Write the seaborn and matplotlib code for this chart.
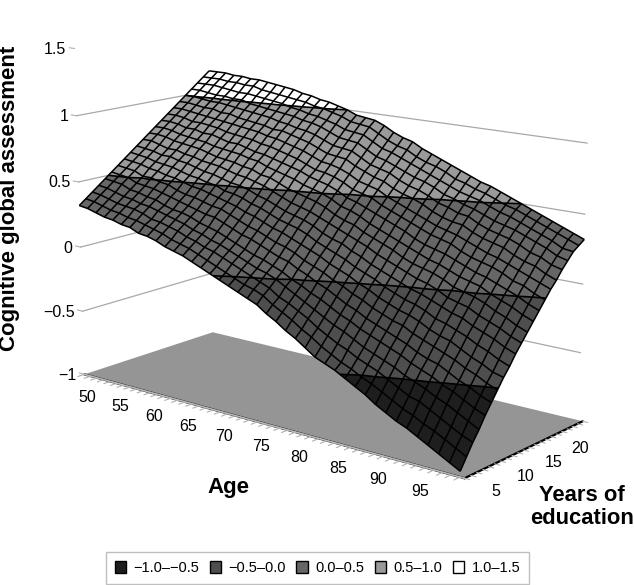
import numpy as np
import matplotlib
matplotlib.use('Agg')
import matplotlib.pyplot as plt
import seaborn as sns
from matplotlib.patches import Patch
from mpl_toolkits.mplot3d.art3d import Poly3DCollection

AGE = [50, 51.25, 52.5, 53.75, 55, 56.25, 57.5, 58.75, 60, 61.25, 62.5, 63.75, 65, 66.25, 67.5, 68.75, 70, 71.25,
       72.5, 73.75, 75, 76.25, 77.5, 78.75, 80, 81.25, 82.5, 83.75, 85, 86.25, 87.5, 88.75, 90, 91.25, 92.5, 93.75,
       95, 96.25, 97.5, 98.75, 100]
EDU = list(range(5, 27))
# one row per age, one value per year of education (5 to 26)
SCORE = [
    [.32, .36, .40, .44, .48, .52, .56, .60, .64, .68, .72, .76, .80, .84, .88, .92, .96, 1.00, 1.04, 1.08, 1.12, 1.16],
    [.31, .35, .39, .43, .47, .51, .55, .59, .63, .67, .72, .76, .80, .84, .88, .92, .96, 1.00, 1.04, 1.08, 1.12, 1.16],
    [.29, .33, .37, .41, .46, .50, .54, .58, .62, .66, .70, .75, .79, .83, .87, .91, .95, .99, 1.03, 1.08, 1.12, 1.16],
    [.27, .31, .35, .39, .43, .47, .51, .56, .60, .64, .68, .73, .77, .81, .85, .90, .94, .98, 1.02, 1.07, 1.11, 1.15],
    [.26, .30, .34, .38, .42, .46, .51, .55, .59, .64, .68, .72, .76, .81, .85, .89, .94, .98, 1.02, 1.06, 1.11, 1.15],
    [.24, .28, .33, .36, .40, .45, .49, .53, .58, .62, .66, .71, .75, .79, .84, .88, .92, .97, 1.01, 1.05, 1.10, 1.14],
    [.23, .27, .31, .35, .39, .43, .48, .52, .56, .61, .65, .70, .74, .79, .83, .87, .92, .96, 1.01, 1.05, 1.10, 1.14],
    [.20, .25, .28, .33, .36, .41, .45, .50, .54, .59, .63, .68, .72, .77, .81, .86, .90, .95, .99, 1.04, 1.08, 1.13],
    [.19, .23, .27, .31, .34, .39, .43, .48, .53, .57, .62, .66, .71, .75, .80, .85, .89, .94, .98, 1.03, 1.07, 1.12],
    [.17, .21, .25, .29, .33, .37, .42, .47, .51, .56, .61, .65, .70, .75, .79, .84, .88, .93, .97, 1.02, 1.06, 1.11],
    [.14, .18, .23, .27, .31, .35, .40, .45, .50, .54, .59, .64, .69, .73, .78, .83, .87, .92, .96, 1.01, 1.05, 1.10],
    [.12, .16, .20, .24, .28, .33, .38, .43, .47, .52, .57, .62, .67, .71, .76, .81, .85, .90, .95, .99, 1.04, 1.08],
    [.10, .14, .18, .22, .26, .32, .37, .41, .46, .51, .56, .61, .66, .70, .75, .80, .85, .89, .94, .98, 1.03, 1.07],
    [.07, .11, .15, .19, .24, .29, .34, .39, .44, .49, .54, .58, .63, .68, .73, .78, .83, .87, .92, .96, 1.01, 1.05],
    [.04, .08, .13, .17, .21, .26, .31, .36, .41, .46, .52, .57, .61, .66, .71, .76, .81, .86, .91, .95, 1.00, 1.04],
    [.01, .05, .10, .14, .18, .23, .28, .34, .39, .44, .49, .54, .59, .64, .69, .74, .79, .84, .89, .93, .98, 1.02],
    [-.02, .02, .07, .11, .15, .21, .26, .31, .36, .41, .46, .51, .57, .62, .66, .71, .76, .81, .86, .91, .96, 1.00],
    [-.05, -.01, .04, .08, .12, .18, .23, .28, .33, .38, .43, .49, .54, .59, .63, .68, .73, .78, .83, .88, .93, .97],
    [-.08, -.04, .01, .05, .10, .15, .20, .26, .31, .36, .41, .47, .52, .57, .62, .67, .72, .77, .82, .87, .92, .96],
    [-.11, -.06, -.02, .03, .07, .12, .18, .23, .29, .34, .39, .45, .50, .55, .60, .65, .71, .76, .81, .86, .91, .95],
    [-.14, -.09, -.05, .00, .04, .10, .15, .20, .26, .31, .36, .42, .47, .52, .57, .62, .67, .72, .77, .82, .87, .92],
    [-.19, -.14, -.10, -.04, .00, .06, .11, .17, .22, .27, .33, .38, .43, .48, .53, .58, .64, .68, .73, .78, .83, .88],
    [-.23, -.18, -.13, -.08, -.03, .03, .08, .14, .19, .24, .30, .35, .41, .46, .51, .56, .61, .66, .71, .76, .80, .85],
    [-.28, -.22, -.17, -.12, -.07, -.01, .05, .10, .16, .22, .27, .33, .38, .43, .49, .54, .59, .64, .68, .73, .78, .83],
    [-.32, -.27, -.21, -.16, -.10, -.04, .01, .07, .13, .18, .24, .29, .34, .40, .45, .50, .55, .60, .65, .70, .74, .79],
    [-.37, -.31, -.26, -.20, -.14, -.08, -.02, .04, .09, .15, .21, .26, .31, .37, .42, .47, .52, .57, .62, .67, .71, .76],
    [-.42, -.36, -.30, -.24, -.18, -.12, -.06, .00, .06, .11, .17, .23, .28, .34, .39, .44, .50, .55, .60, .64, .69, .73],
    [-.45, -.40, -.34, -.27, -.21, -.15, -.09, -.03, .03, .08, .14, .20, .25, .31, .36, .41, .47, .52, .57, .61, .66, .70],
    [-.48, -.44, -.37, -.31, -.25, -.19, -.13, -.07, -.01, .05, .11, .16, .22, .27, .33, .38, .43, .48, .53, .58, .62, .67],
    [-.52, -.47, -.41, -.35, -.28, -.22, -.16, -.10, -.04, .02, .08, .13, .19, .24, .30, .35, .40, .46, .51, .55, .60, .64],
    [-.56, -.51, -.44, -.38, -.31, -.25, -.19, -.13, -.07, -.01, .05, .11, .16, .22, .28, .33, .38, .43, .48, .53, .57, .61],
    [-.60, -.54, -.47, -.41, -.34, -.28, -.21, -.15, -.09, -.03, .03, .09, .14, .20, .26, .31, .37, .42, .46, .51, .55, .59],
    [-.65, -.58, -.51, -.44, -.37, -.31, -.25, -.18, -.12, -.06, .00, .06, .11, .17, .22, .28, .33, .38, .43, .48, .52, .56],
    [-.69, -.62, -.55, -.48, -.41, -.35, -.28, -.22, -.16, -.09, -.04, .02, .08, .14, .19, .25, .30, .35, .40, .45, .49, .53],
    [-.73, -.66, -.59, -.51, -.44, -.38, -.31, -.25, -.18, -.12, -.06, .00, .06, .11, .17, .22, .28, .33, .38, .43, .47, .50],
    [-.76, -.69, -.61, -.54, -.47, -.40, -.34, -.27, -.21, -.14, -.08, -.02, .04, .09, .15, .20, .26, .31, .36, .40, .44, .47],
    [-.80, -.73, -.65, -.58, -.51, -.44, -.37, -.31, -.24, -.18, -.12, -.05, .00, .06, .12, .17, .22, .28, .33, .37, .41, .44],
    [-.84, -.76, -.69, -.61, -.54, -.48, -.41, -.35, -.28, -.21, -.15, -.09, -.03, .03, .08, .14, .19, .24, .30, .34, .38, .41],
    [-.88, -.80, -.73, -.65, -.58, -.51, -.44, -.38, -.31, -.24, -.18, -.12, -.06, .00, .06, .11, .17, .22, .27, .31, .35, .38],
    [-.92, -.84, -.77, -.69, -.62, -.55, -.48, -.42, -.35, -.28, -.22, -.16, -.10, -.04, .02, .08, .13, .18, .23, .27, .32, .35],
    [-.96, -.88, -.80, -.73, -.65, -.58, -.51, -.44, -.38, -.31, -.25, -.19, -.13, -.07, -.01, .05, .10, .16, .21, .26, .29, .32],
]
BANDS = [-1.0, -0.5, 0.0, 0.5, 1.0, 1.5]
BAND_LABELS = ['\u22121.0\u2013\u22120.5', '\u22120.5\u20130.0', '0.0\u20130.5', '0.5\u20131.0', '1.0\u20131.5']
BAND_COLOURS = ['#1e1e1e', '#4e4e4e', '#666666', '#9a9a9a', '#ffffff']
AGE_TICKS = [50, 55, 60, 65, 70, 75, 80, 85, 90, 95]
EDU_TICKS = [5, 10, 15, 20]
Z_TICKS = [-1, -0.5, 0, 0.5, 1, 1.5]
Z_LABELS = ['\u22121', '\u22120.5', '0', '0.5', '1', '1.5']
WALL_LEVELS = [-0.5, 0, 0.5, 1]


def clip_poly(poly, level, keep_above):
    # cut a 3D polygon at a z level, keeping one side
    out = []
    for i in range(len(poly)):
        p, q = poly[i], poly[(i + 1) % len(poly)]
        p_in = (p[2] >= level) == keep_above
        q_in = (q[2] >= level) == keep_above
        if p_in:
            out.append(p)
        if p_in != q_in:
            f = (level - p[2]) / (q[2] - p[2])
            out.append(p + f * (q - p))
    return out


def band_polys(ages, edus, z):
    polys, colours = [], []
    for i in range(len(ages) - 1):
        for j in range(len(edus) - 1):
            corners = [(i, j), (i + 1, j), (i + 1, j + 1), (i, j + 1)]
            quad = [np.array([ages[a], edus[b], z[a, b]]) for a, b in corners]
            for k, colour in enumerate(BAND_COLOURS):
                piece = clip_poly(quad, BANDS[k], True)
                if len(piece) > 2:
                    piece = clip_poly(piece, BANDS[k + 1], False)
                if len(piece) > 2:
                    polys.append(piece)
                    colours.append(colour)
    return polys, colours


if __name__ == "__main__":
    sns.set_theme(style='white')
    plt.rcParams['font.family'] = ['Liberation Sans', 'DejaVu Sans']

    ages = np.array(AGE, dtype=float)
    edus = np.array(EDU, dtype=float)
    z = np.array(SCORE)
    edu_grid, age_grid = np.meshgrid(edus, ages)

    fig = plt.figure(figsize=(6.34, 5.85), dpi=100)
    ax = fig.add_axes([8.5 / 634, 37.5 / 585, 615 / 634, 615 / 585], projection='3d',
                      computed_zorder=False, facecolor='none')
    ax.view_init(elev=13.5, azim=-51)
    ax.set_proj_type('persp', focal_length=0.585)
    ax.set_box_aspect((1.37, 0.565, 0.97))

    # level lines on the two back walls
    for level in WALL_LEVELS:
        ax.plot([ages[0], ages[0], ages[-1]], [edus[0], edus[-1], edus[-1]], [level, level, level],
                color='#a8a8a8', lw=0.9, zorder=1)

    polys, colours = band_polys(ages, edus, z)
    fill = Poly3DCollection(polys, facecolors=colours, edgecolors=colours, linewidths=0.2)
    fill.set_zorder(2)
    ax.add_collection3d(fill)
    ax.plot_wireframe(age_grid, edu_grid, z, rstride=1, cstride=1, color='black', linewidth=1.1, zorder=3)
    ax.contour(age_grid, edu_grid, z, levels=WALL_LEVELS, colors='black', linewidths=1.2,
               linestyles='solid', zorder=4)

    ax.set_xlim(50, 100.5, view_margin=0)
    ax.set_ylim(5, 26, view_margin=0)
    ax.set_zlim(-1, 1.5, view_margin=0)

    ax.set_xticks(AGE_TICKS)
    ax.set_xticks(range(50, 101), minor=True)
    ax.set_yticks(EDU_TICKS)
    ax.set_yticks(range(5, 27), minor=True)
    ax.set_zticks(Z_TICKS)
    ax.set_zticklabels(Z_LABELS, ha='right', va='center_baseline')
    ax.tick_params(axis='x', which='both', label1On=False, color='#b0b0b0')
    ax.tick_params(axis='y', which='both', label1On=False, color='#b0b0b0')
    ax.tick_params(axis='z', labelsize=11.5, pad=-4, color='#b0b0b0', labelcolor='black')
    ax.grid(False)
    for axis in [ax.xaxis, ax.yaxis]:
        for tick in axis.get_major_ticks() + axis.get_minor_ticks():
            tick.label1.set_text('')
            tick.label1.set_visible(False)

    # tick labels sit just under the floor edges
    for age in AGE_TICKS:
        ax.text(age + 0.4, 5, -1.18, str(age), ha='center', va='center', fontsize=11.5, rotation=-8, color='black')
    for edu in EDU_TICKS:
        ax.text(102.8, edu + 1.9, -1.09, str(edu), ha='center', va='center', fontsize=11.5, color='black')

    ax.xaxis.set_pane_color((1, 1, 1, 0))
    ax.yaxis.set_pane_color((1, 1, 1, 0))
    ax.zaxis.set_pane_color('#959595')
    for axis in [ax.xaxis, ax.yaxis, ax.zaxis]:
        axis.pane.set_edgecolor('none')
        axis._axinfo['tick']['linewidth'] = {True: 0.8, False: 0.8}
    # "inward" is the side that leaves the box on these two axes
    ax.xaxis._axinfo['tick']['inward_factor'] = 0.6
    ax.xaxis._axinfo['tick']['outward_factor'] = 0.0
    ax.yaxis._axinfo['tick']['inward_factor'] = 0.15
    ax.yaxis._axinfo['tick']['outward_factor'] = 0.0
    ax.zaxis._axinfo['tick']['inward_factor'] = 0.0
    ax.zaxis._axinfo['tick']['outward_factor'] = 0.2
    ax.xaxis.line.set_color('black')
    ax.yaxis.line.set_color('black')
    ax.xaxis.line.set_linewidth(1.6)
    ax.yaxis.line.set_linewidth(1.6)
    ax.zaxis.line.set_color('#b8b8b8')
    ax.zaxis._axinfo['juggled'] = (1, 0, 2)

    fig.text(10 / 634, 1 - 198 / 585, 'Cognitive global assessment', rotation=90, ha='center', va='center',
             fontsize=16, fontweight='bold', color='black')
    fig.text(228 / 634, 1 - 488 / 585, 'Age', ha='center', va='center', fontsize=16, fontweight='bold', color='black')
    fig.text(582 / 634, 1 - 507 / 585, 'Years of\neducation', ha='center', va='center', fontsize=15.8,
             fontweight='bold', color='black', linespacing=1.1)

    handles = [Patch(facecolor=c, edgecolor='black', linewidth=1) for c in BAND_COLOURS]
    leg = fig.legend(handles, BAND_LABELS, ncol=5, loc='center', bbox_to_anchor=(317.5 / 634, 1 - 568 / 585),
                     fontsize=10.5, frameon=True, fancybox=False, edgecolor='#b0b0b0', handlelength=0.8,
                     handleheight=0.8, handletextpad=0.5, columnspacing=0.7, borderpad=0.6, labelcolor='black')
    leg.get_frame().set_linewidth(1)

    fig.savefig('out.png', dpi=100, facecolor='white')
